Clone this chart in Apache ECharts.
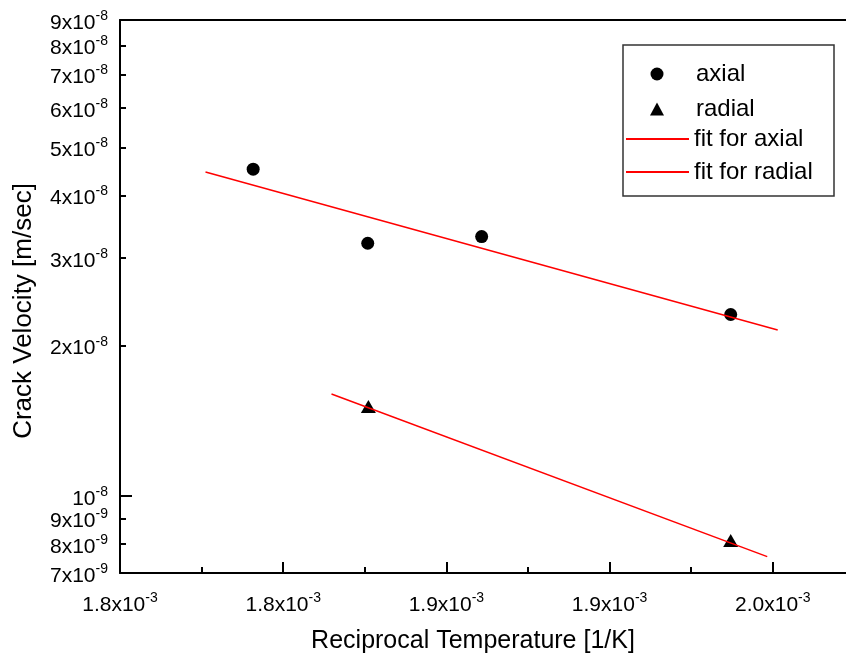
<!DOCTYPE html>
<html>
<head>
<meta charset="utf-8">
<script src="https://cdn.jsdelivr.net/npm/echarts@6/dist/echarts.min.js"></script>
<style>
    html, body { margin: 0; padding: 0; background: #fff; }
    #main { width: 846px; height: 659px; }
</style>
</head>
<body>
<div id="main"></div>
<script>
(function () {
    "use strict";

    // measured points
    const axialX = [1.7908e-3, 1.8259e-3, 1.8608e-3, 1.9371e-3];
    const axialY = [4.52e-8, 3.21e-8, 3.31e-8, 2.31e-8];
    const radialX = [1.8261e-3, 1.9371e-3];
    const radialY = [1.51e-8, 8.13e-9];
    // fitted lines (end points)
    const fitAxialX = [1.7762e-3, 1.9515e-3];
    const fitAxialY = [4.46e-8, 2.15e-8];
    const fitRadialX = [1.8148e-3, 1.9483e-3];
    const fitRadialY = [1.60e-8, 7.55e-9];

    // tick labels
    const xMin = 1.75e-3;
    const xMax = 2.0e-3;
    const xStep = 0.05e-3;
    const xTickLabels = ['1.8', '1.8', '1.9', '1.9', '2.0', '2.0'];
    const yTickValues = [7e-9, 8e-9, 9e-9, 1e-8, 2e-8, 3e-8, 4e-8, 5e-8, 6e-8, 7e-8, 8e-8, 9e-8];
    const yTickMantissa = ['7', '8', '9', '', '2', '3', '4', '5', '6', '7', '8', '9'];
    const yTickExponent = ['-9', '-9', '-9', '-8', '-8', '-8', '-8', '-8', '-8', '-8', '-8', '-8'];
    const yMajorTicks = [1e-8];

    const font = '"Liberation Sans", Arial, sans-serif';
    const richLabel = {
        m: { fontSize: 21, lineHeight: 28, fontFamily: font, color: '#000' },
        e: { fontSize: 14, lineHeight: 14, fontFamily: font, color: '#000', verticalAlign: 'top' }
    };

    function pairs(xs, ys) {
        return xs.map((x, i) => [x, ys[i]]);
    }

    function yLabel(value) {
        let idx = yTickValues.findIndex(v => Math.abs(v - value) / v < 1e-6);
        if (idx < 0) return '';
        let m = yTickMantissa[idx];
        return '{m|' + (m ? m + 'x10' : '10') + '}{e|' + yTickExponent[idx] + '}';
    }

    function xLabel(value) {
        let idx = Math.round((value - xMin) / xStep);
        return '{m|' + xTickLabels[idx] + 'x10}{e|-3}';
    }

    let legendText = { fontSize: 24, fontFamily: font, color: '#000' };

    let myChart = echarts.init(document.getElementById('main'));
    let option = {
        animation: false,
        backgroundColor: '#fff',
        grid: { left: 120, right: -90, top: 20, bottom: 86, outerBoundsMode: 'none', containLabel: false },
        xAxis: [
            {
                type: 'value',
                min: xMin,
                max: xMax,
                interval: xStep,
                position: 'bottom',
                axisLine: { lineStyle: { color: '#000', width: 2 } },
                axisTick: { inside: true, length: 11, lineStyle: { color: '#000', width: 2 } },
                minorTick: { show: true, splitNumber: 2, length: 6, lineStyle: { color: '#000', width: 2 } },
                splitLine: { show: false },
                axisLabel: { margin: 18, fontSize: 21, fontFamily: font, color: '#000', formatter: xLabel, rich: richLabel, showMaxLabel: false }
            },
            {
                type: 'value',
                min: xMin,
                max: xMax,
                position: 'top',
                axisLine: { lineStyle: { color: '#000', width: 2 } },
                axisTick: { show: false },
                axisLabel: { show: false },
                splitLine: { show: false }
            }
        ],
        yAxis: [
            {
                type: 'log',
                logBase: 10,
                min: 7e-9,
                max: 9e-8,
                axisLine: { lineStyle: { color: '#000', width: 2 } },
                axisTick: { inside: true, length: 6, customValues: yTickValues, lineStyle: { color: '#000', width: 2 } },
                axisLabel: {
                    margin: 12, padding: [6, 0, 0, 0],
                    fontSize: 21, fontFamily: font, color: '#000',
                    customValues: yTickValues, formatter: yLabel, rich: richLabel
                },
                splitLine: { show: false }
            },
            {
                type: 'log',
                logBase: 10,
                min: 7e-9,
                max: 9e-8,
                position: 'left',
                axisLine: { show: false },
                axisTick: { inside: true, length: 12, customValues: yMajorTicks, lineStyle: { color: '#000', width: 2 } },
                axisLabel: { show: false },
                splitLine: { show: false }
            }
        ],
        legend: [
            {
                orient: 'vertical',
                left: 645,
                top: 57,
                itemWidth: 14,
                itemHeight: 13,
                itemGap: 11,
                selectedMode: false,
                textStyle: Object.assign({ padding: [0, 0, 0, 27] }, legendText),
                data: ['axial', 'radial']
            },
            {
                orient: 'vertical',
                left: 620,
                top: 122,
                itemWidth: 63,
                itemHeight: 13,
                itemGap: 9,
                selectedMode: false,
                textStyle: legendText,
                data: [
                    { name: 'fit for axial', itemStyle: { opacity: 0 } },
                    { name: 'fit for radial', itemStyle: { opacity: 0 } }
                ]
            }
        ],
        graphic: [
            {
                type: 'rect',
                shape: { x: 623, y: 45, width: 211, height: 151 },
                style: { fill: 'none', stroke: '#333', lineWidth: 1.5 }
            },
            {
                type: 'text',
                x: 473,
                y: 641,
                style: { text: 'Reciprocal Temperature [1/K]', font: '25px ' + font, fill: '#000', align: 'center', verticalAlign: 'middle' }
            },
            {
                type: 'text',
                x: 24,
                y: 311,
                rotation: Math.PI / 2,
                style: { text: 'Crack Velocity [m/sec]', font: '26px ' + font, fill: '#000', align: 'center', verticalAlign: 'middle' }
            }
        ],
        series: [
            {
                name: 'fit for axial',
                type: 'line',
                symbol: 'none',
                lineStyle: { color: '#ff0000', width: 1.5 },
                itemStyle: { color: '#ff0000' },
                data: pairs(fitAxialX, fitAxialY)
            },
            {
                name: 'fit for radial',
                type: 'line',
                symbol: 'none',
                lineStyle: { color: '#ff0000', width: 1.5 },
                itemStyle: { color: '#ff0000' },
                data: pairs(fitRadialX, fitRadialY)
            },
            {
                name: 'axial',
                type: 'scatter',
                symbol: 'circle',
                symbolSize: 13,
                itemStyle: { color: '#000', opacity: 1 },
                data: pairs(axialX, axialY)
            },
            {
                name: 'radial',
                type: 'scatter',
                symbol: 'triangle',
                symbolSize: [15, 13],
                itemStyle: { color: '#000', opacity: 1 },
                data: pairs(radialX, radialY)
            }
        ]
    };
    myChart.setOption(option);
})();
</script>
</body>
</html>
